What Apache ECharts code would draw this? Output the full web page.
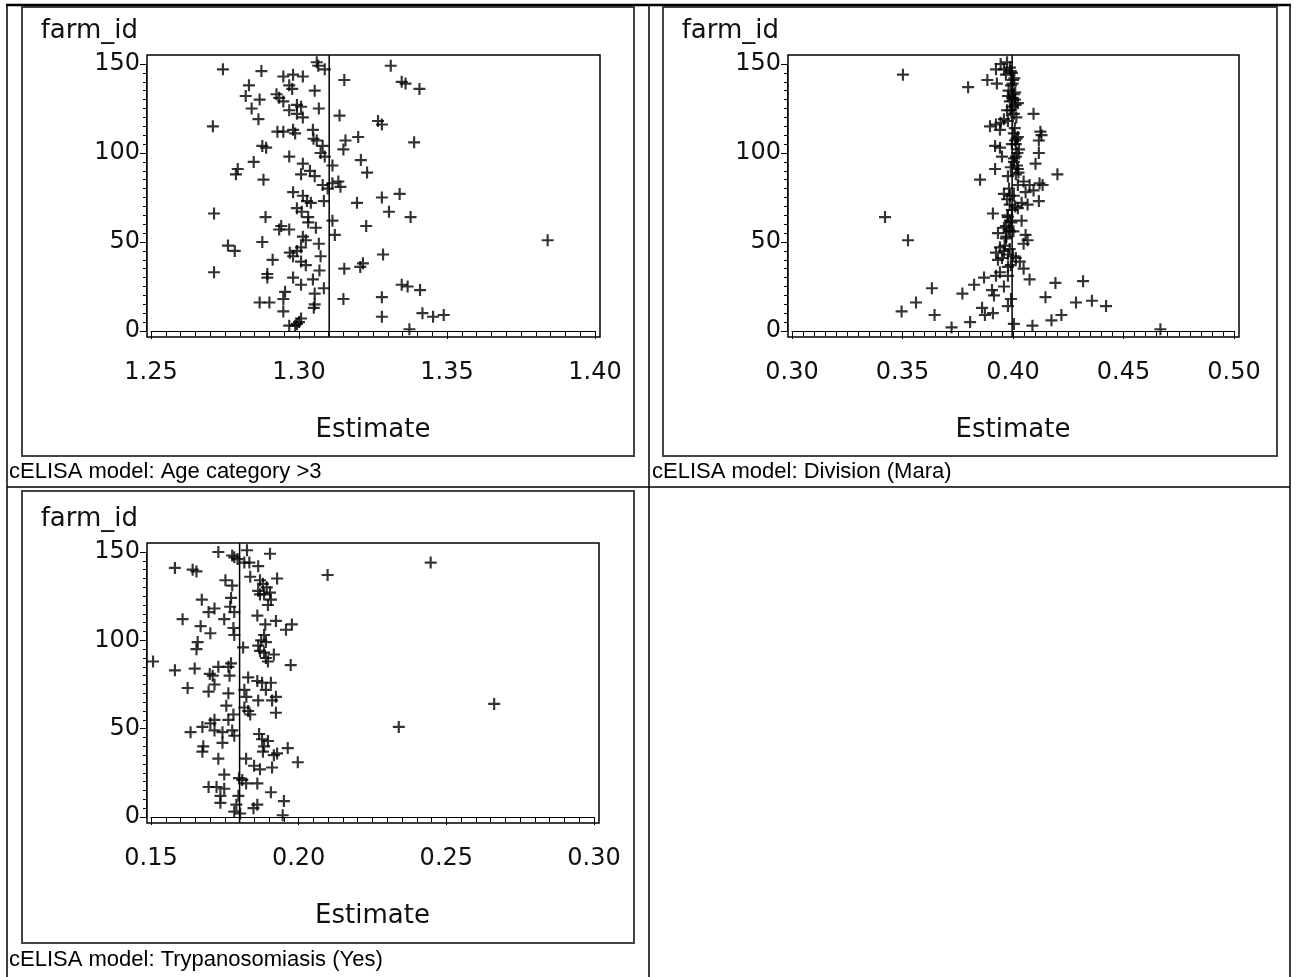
<!DOCTYPE html>
<html>
<head>
<meta charset="utf-8">
<script src="https://cdn.jsdelivr.net/npm/echarts@6/dist/echarts.min.js"></script>
<style>
  html, body { margin: 0; padding: 0; background: #fff; }
  #main { width: 1297px; height: 977px; }
</style>
</head>
<body>
<div id="main"></div>
<script>
// [estimate, farm_id]
const agePoints = [
  [1.306,151],[1.3065,149],[1.3087,147],[1.2743,147],[1.2873,146],[1.331,149],[1.2947,143],[1.298,144],[1.3013,143],[1.3153,141],
  [1.3347,140],[1.336,139],[1.3407,136],[1.2831,138],[1.2967,138],[1.2977,136],[1.3053,135],[1.282,132],[1.2867,130],[1.2924,133],
  [1.2933,131],[1.2947,129],[1.2993,127],[1.3007,126],[1.284,125],[1.3067,125],[1.2967,124],[1.2993,122],[1.3137,121],[1.2863,119],
  [1.3013,120],[1.3267,118],[1.328,116],[1.2709,115],[1.2927,112],[1.2947,112],[1.298,113],[1.2987,111],[1.3047,113],[1.3049,108],
  [1.306,107],[1.32,109],[1.3157,107],[1.3389,106],[1.308,104],[1.2876,104],[1.2889,103],[1.315,102],[1.3073,100],[1.3087,98],
  [1.2967,98],[1.3209,96],[1.2847,95],[1.3013,94],[1.3113,93],[1.2793,91],[1.2787,88],[1.3037,90],[1.3007,88],[1.323,89],
  [1.288,85],[1.3053,87],[1.3113,83],[1.3133,84],[1.314,81],[1.308,82],[1.3097,80],[1.298,78],[1.334,77],[1.328,75],
  [1.3013,76],[1.304,72],[1.3027,73],[1.3084,73],[1.3196,72],[1.2993,69],[1.3009,67],[1.3304,67],[1.2713,66],[1.2887,64],
  [1.3031,64],[1.3377,64],[1.3113,62],[1.3031,61],[1.3227,59],[1.294,59],[1.2933,57],[1.2967,57],[1.3057,58],[1.3121,54],
  [1.3013,53],[1.3023,51],[1.2876,50],[1.3067,49],[1.384,51],[1.3007,47],[1.276,48],[1.2783,45],[1.2969,44],[1.2993,45],
  [1.298,42],[1.3073,42],[1.3284,43],[1.2911,40],[1.3007,39],[1.3023,37],[1.3153,35],[1.3207,36],[1.3216,38],[1.2713,33],
  [1.3069,34],[1.2893,32],[1.2893,30],[1.298,30],[1.3047,29],[1.3007,26],[1.3347,26],[1.3367,25],[1.3084,24],[1.3409,23],
  [1.2953,22],[1.3053,21],[1.315,18],[1.328,19],[1.2947,18],[1.2867,16],[1.29,16],[1.3053,15],[1.305,13],[1.2947,11],
  [1.3417,10],[1.3453,8],[1.3489,9],[1.328,8],[1.3007,7],[1.3,5],[1.2993,4],[1.2967,3],[1.3373,1],[1.2987,3]
];
const divisionPoints = [
  [0.3502,144],[0.3797,137],[0.3884,141],[0.3927,139],[0.3944,150],[0.3973,151],[0.3986,148],[0.3959,147],[0.3923,147],[0.3995,145],
  [0.3968,144],[0.4,141],[0.3991,138],[0.398,135],[0.4004,133],[0.3977,132],[0.4009,130],[0.3986,129],[0.4022,128],[0.3995,126],
  [0.3973,124],[0.4093,122],[0.4004,122],[0.3959,119],[0.3944,117],[0.3977,118],[0.3896,115],[0.3923,116],[0.3941,113],[0.4124,112],
  [0.4129,110],[0.4004,111],[0.4022,109],[0.4009,107],[0.4117,107],[0.3919,104],[0.3941,103],[0.4013,105],[0.4027,102],[0.4117,100],
  [0.395,98],[0.4013,98],[0.4004,95],[0.4102,94],[0.3919,91],[0.4022,91],[0.4013,88],[0.4201,88],[0.3977,87],[0.3851,85],
  [0.4048,84],[0.4075,82],[0.412,83],[0.4134,82],[0.4022,82],[0.4093,79],[0.4057,78],[0.3959,77],[0.3986,76],[0.3973,74],
  [0.4117,73],[0.4039,72],[0.4066,71],[0.4022,69],[0.3995,68],[0.3909,66],[0.3977,64],[0.3986,62],[0.4039,62],[0.3421,64],
  [0.3968,59],[0.3959,58],[0.3986,56],[0.3932,55],[0.4057,54],[0.4066,51],[0.4048,49],[0.3968,52],[0.3525,51],[0.3941,47],
  [0.3959,45],[0.3923,44],[0.3977,43],[0.395,41],[0.3932,40],[0.4013,41],[0.4031,39],[0.4048,35],[0.3977,36],[0.3941,33],
  [0.3923,31],[0.3977,31],[0.4075,29],[0.3869,30],[0.4192,27],[0.4317,28],[0.3824,26],[0.3633,24],[0.3959,25],[0.3905,23],
  [0.3914,20],[0.3771,21],[0.4147,19],[0.3991,18],[0.4285,16],[0.4357,17],[0.4421,14],[0.3561,16],[0.3977,14],[0.386,13],
  [0.3909,10],[0.3496,11],[0.3645,9],[0.3873,9],[0.4219,9],[0.4174,6],[0.3806,5],[0.4004,4],[0.4088,3],[0.3722,2],
  [0.4667,1],[0.399,146],[0.4006,142],[0.3998,139],[0.401,134],[0.3996,131],[0.4012,127],[0.3988,124],[0.4015,120],[0.4008,114],
  [0.4016,108],[0.3995,105],[0.402,100],[0.4005,97],[0.4018,93],[0.399,92],[0.4025,89],[0.3982,80],[0.4004,76],[0.3985,71],
  [0.401,70],[0.3975,65],[0.3993,61],[0.398,57],[0.4002,56],[0.397,53],[0.3962,48],[0.3985,46],[0.4,42],[0.399,37]
];
const trypPoints = [
  [0.1728,150],[0.1782,147],[0.1793,146],[0.1775,148],[0.1825,151],[0.1903,149],[0.1816,144],[0.1833,144],[0.1863,142],[0.2447,144],
  [0.1581,141],[0.1641,140],[0.1654,139],[0.2098,137],[0.1836,136],[0.1927,135],[0.1752,134],[0.1775,131],[0.1869,134],[0.1879,132],
  [0.1863,128],[0.1892,130],[0.1903,127],[0.1869,126],[0.1883,126],[0.1906,123],[0.1896,120],[0.1672,123],[0.1771,124],[0.1768,119],
  [0.1715,118],[0.1695,116],[0.1782,116],[0.1748,112],[0.1607,112],[0.186,114],[0.1923,111],[0.1977,109],[0.1957,106],[0.1887,109],
  [0.1668,108],[0.1779,107],[0.1782,103],[0.1701,104],[0.1883,103],[0.1873,100],[0.1889,99],[0.1658,99],[0.1654,95],[0.1812,96],
  [0.1863,97],[0.1869,94],[0.1883,93],[0.1916,92],[0.1889,90],[0.1896,88],[0.1507,88],[0.1973,86],[0.1771,87],[0.1762,85],
  [0.1728,85],[0.1581,83],[0.1648,84],[0.1699,81],[0.1709,80],[0.1766,80],[0.1829,79],[0.186,77],[0.1876,76],[0.1715,75],
  [0.1695,71],[0.1624,73],[0.1906,76],[0.1889,72],[0.1816,72],[0.1762,70],[0.1923,68],[0.191,66],[0.1823,68],[0.1863,66],
  [0.2662,64],[0.1755,63],[0.1816,62],[0.1829,60],[0.1836,58],[0.1923,59],[0.1779,58],[0.1762,55],[0.1715,55],[0.1701,53],
  [0.1674,51],[0.1634,48],[0.1715,49],[0.1742,48],[0.1775,49],[0.1782,46],[0.2339,51],[0.1866,47],[0.1876,44],[0.1742,42],
  [0.1896,43],[0.1883,40],[0.1677,40],[0.1674,37],[0.1963,39],[0.1879,37],[0.1916,35],[0.1927,36],[0.1728,33],[0.1822,33],
  [0.1997,31],[0.1849,29],[0.1869,27],[0.191,28],[0.1748,24],[0.1798,22],[0.1809,21],[0.1822,19],[0.186,19],[0.1695,17],
  [0.1722,17],[0.1748,16],[0.1906,14],[0.1735,12],[0.1735,8],[0.1796,12],[0.195,9],[0.1789,7],[0.186,7],[0.1847,5],
  [0.1782,3],[0.1946,1],[0.1802,2]
];

// vertical reference line (overall estimate) per panel
const refValues = [1.3102, 0.3996, 0.18];
const xRanges = [[1.25, 1.40], [0.30, 0.50], [0.15, 0.30]];
const yTicks = [0, 150, 50];   // min, max, step
const captions = [
  'cELISA model: Age category >3',
  'cELISA model: Division (Mara)',
  'cELISA model: Trypanosomiasis (Yes)'
];

const chart = echarts.init(document.getElementById('main'));

const plusSymbol = 'path://M4.1,0H5.9V4.1H10V5.9H5.9V10H4.1V5.9H0V4.1H4.1Z';
const tickFont = 'DejaVu Sans';

// layout of each panel (pixels)
const layout = [
  { grid: { left: 151, top: 64, width: 444, height: 267 }, frame: [22, 7, 612, 449], capX: 9, capY: 472 },
  { grid: { left: 792, top: 64, width: 442, height: 267 }, frame: [663, 7, 614, 449], capX: 652, capY: 472 },
  { grid: { left: 151, top: 552, width: 443, height: 265 }, frame: [22, 491, 612, 452], capX: 9, capY: 960 }
];
const allPoints = [agePoints, divisionPoints, trypPoints];

const grids = [], xAxes = [], yAxes = [], series = [], graphics = [];

layout.forEach((p, i) => {
  grids.push(p.grid);
  xAxes.push({
    gridIndex: i, type: 'value',
    min: xRanges[i][0], max: xRanges[i][1], interval: 0.05,
    offset: 10,
    axisLine: { show: true, lineStyle: { color: '#000', width: 1 } },
    axisTick: { show: true, length: 8, lineStyle: { color: '#000' } },
    minorTick: { show: true, splitNumber: 10, length: 5, lineStyle: { color: '#000' } },
    splitLine: { show: false },
    axisLabel: { color: '#111', fontFamily: tickFont, fontSize: 24, margin: 20,
      formatter: v => v.toFixed(2) },
    name: 'Estimate', nameLocation: 'middle', nameGap: 76,
    nameTextStyle: { color: '#111', fontFamily: tickFont, fontSize: 26 }
  });
  yAxes.push({
    gridIndex: i, type: 'value',
    min: yTicks[0], max: yTicks[1], interval: yTicks[2],
    offset: 5,
    axisLine: { show: true, lineStyle: { color: '#000', width: 1 } },
    axisTick: { show: true, length: 6, lineStyle: { color: '#000' } },
    minorTick: { show: true, splitNumber: 10, length: 3, lineStyle: { color: '#000' } },
    splitLine: { show: false },
    axisLabel: { color: '#111', fontFamily: tickFont, fontSize: 24, margin: 6 },
    name: 'farm_id', nameLocation: 'end', nameGap: 33,
    nameTextStyle: { color: '#111', fontFamily: tickFont, fontSize: 26,
      align: 'right', verticalAlign: 'middle', padding: [0, 8, 0, 0] }
  });
  series.push({
    type: 'scatter',
    xAxisIndex: i, yAxisIndex: i,
    data: allPoints[i],
    symbol: plusSymbol, symbolSize: 12,
    itemStyle: { color: '#000' },
    clip: false, silent: true
  });
  const g = p.grid;
  // plot box, slightly larger than the axis range
  graphics.push({
    type: 'rect', silent: true,
    shape: { x: g.left - 4, y: g.top - 9, width: g.width + 9, height: g.height + 15 },
    style: { fill: 'none', stroke: '#000', lineWidth: 1.5 }
  });
  // outer graph frame
  graphics.push({
    type: 'rect', silent: true,
    shape: { x: p.frame[0], y: p.frame[1], width: p.frame[2], height: p.frame[3] },
    style: { fill: 'none', stroke: '#444', lineWidth: 2 }
  });
  graphics.push({
    type: 'text', silent: true, x: p.capX, y: p.capY,
    style: { text: captions[i], fill: '#000', font: '22px "Liberation Sans", Arial, sans-serif',
      verticalAlign: 'middle' }
  });
});

// table rules
const rule = (x1, y1, x2, y2, w) => ({
  type: 'line', silent: true,
  shape: { x1, y1, x2, y2 },
  style: { stroke: '#000', lineWidth: w }
});
graphics.push(rule(6, 5, 1291, 5, 2.5));
graphics.push(rule(7, 5, 7, 977, 1.5));
graphics.push(rule(1290, 5, 1290, 977, 1.5));
graphics.push(rule(649, 5, 649, 977, 1.5));
graphics.push(rule(7, 487, 1290, 487, 1.5));

chart.setOption({
  backgroundColor: '#fff',
  animation: false,
  grid: grids,
  xAxis: xAxes,
  yAxis: yAxes,
  series: series,
  graphic: graphics
});

// reference lines: x from the axis scale, running the full height of the plot box
layout.forEach((p, i) => {
  const px = chart.convertToPixel({ xAxisIndex: i, yAxisIndex: i }, [refValues[i], 0])[0];
  graphics.push(rule(px, p.grid.top - 9, px, p.grid.top + p.grid.height + 6, 1.5));
});
chart.setOption({ graphic: graphics });
</script>
</body>
</html>
